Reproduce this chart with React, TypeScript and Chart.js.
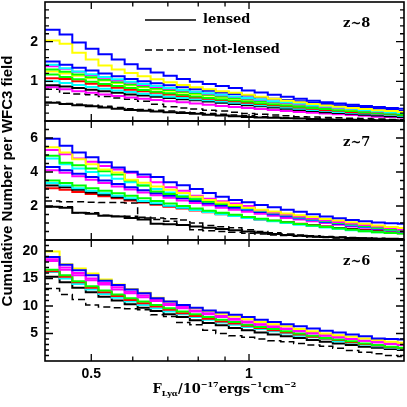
import React, { useEffect, useRef } from "react";
import { Chart, registerables } from "chart.js";

Chart.register(...registerables);

// ---------- x axis (Lyα flux, log scale) ----------
const fluxMin = 0.408;
const fluxMax = 1.976;
const fluxBins = [
  0.408, 0.435, 0.46, 0.488, 0.516, 0.547, 0.579,
  0.613, 0.649, 0.687, 0.728, 0.771, 0.816, 0.864,
  0.915, 0.969, 1.025, 1.086, 1.15, 1.217, 1.289,
  1.365, 1.445, 1.53, 1.62, 1.716, 1.816, 1.923,
];
const xLabelTicks = [0.5, 1];
const xMajorTicks = [0.5, 1];
const xMinorTicks = [0.6, 0.7, 0.8, 0.9];

// ---------- z~8 panel ----------
const z8YLabels = [1, 2];
const z8YMinor = [0.2, 0.4, 0.6, 0.8, 1.2, 1.4, 1.6, 1.8, 2.2, 2.4, 2.6, 2.8];
const z8Blue1 = [2.3, 2.18, 1.98, 1.82, 1.68, 1.55, 1.43, 1.32, 1.22, 1.14, 1.06, 0.99, 0.93, 0.88, 0.83, 0.77, 0.72, 0.66, 0.61, 0.56, 0.51, 0.47, 0.44, 0.41, 0.38, 0.35, 0.33, 0.31];
const z8Yellow1 = [2.03, 1.95, 1.72, 1.55, 1.4, 1.3, 1.21, 1.13, 1.05, 0.98, 0.91, 0.85, 0.8, 0.75, 0.71, 0.66, 0.61, 0.56, 0.51, 0.47, 0.43, 0.39, 0.36, 0.33, 0.3, 0.27, 0.25, 0.23];
const z8Blue2 = [1.5, 1.42, 1.34, 1.27, 1.2, 1.13, 1.06, 1.0, 0.95, 0.9, 0.85, 0.8, 0.76, 0.72, 0.68, 0.64, 0.6, 0.56, 0.53, 0.5, 0.46, 0.43, 0.4, 0.37, 0.34, 0.31, 0.28, 0.25];
const z8Cyan1 = [1.42, 1.33, 1.25, 1.18, 1.11, 1.05, 0.99, 0.93, 0.88, 0.83, 0.78, 0.74, 0.7, 0.66, 0.62, 0.58, 0.54, 0.5, 0.47, 0.44, 0.4, 0.37, 0.34, 0.31, 0.28, 0.25, 0.22, 0.2];
const z8Magenta1 = [1.38, 1.32, 1.24, 1.16, 1.09, 1.03, 0.97, 0.91, 0.86, 0.81, 0.77, 0.73, 0.69, 0.65, 0.61, 0.57, 0.53, 0.49, 0.46, 0.42, 0.39, 0.36, 0.33, 0.3, 0.27, 0.24, 0.22, 0.2];
const z8Green1 = [1.3, 1.24, 1.17, 1.1, 1.04, 0.98, 0.92, 0.87, 0.82, 0.78, 0.74, 0.7, 0.66, 0.62, 0.58, 0.54, 0.5, 0.47, 0.44, 0.41, 0.38, 0.35, 0.32, 0.29, 0.26, 0.23, 0.21, 0.19];
const z8Yellow2 = [1.25, 1.2, 1.14, 1.08, 1.02, 0.96, 0.9, 0.85, 0.8, 0.76, 0.72, 0.68, 0.64, 0.6, 0.57, 0.54, 0.5, 0.47, 0.44, 0.41, 0.38, 0.35, 0.32, 0.29, 0.27, 0.25, 0.23, 0.21];
const z8Green2 = [1.17, 1.11, 1.05, 0.99, 0.93, 0.88, 0.83, 0.78, 0.74, 0.7, 0.66, 0.62, 0.58, 0.55, 0.52, 0.49, 0.45, 0.42, 0.39, 0.36, 0.33, 0.3, 0.27, 0.25, 0.22, 0.2, 0.18, 0.16];
const z8Red = [1.08, 1.06, 1.0, 0.94, 0.89, 0.84, 0.79, 0.75, 0.71, 0.67, 0.63, 0.59, 0.56, 0.53, 0.5, 0.46, 0.43, 0.4, 0.37, 0.34, 0.31, 0.28, 0.26, 0.23, 0.21, 0.19, 0.17, 0.15];
const z8Cyan2 = [1.0, 0.96, 0.91, 0.86, 0.81, 0.77, 0.73, 0.69, 0.65, 0.61, 0.58, 0.55, 0.52, 0.49, 0.46, 0.43, 0.4, 0.37, 0.34, 0.31, 0.28, 0.26, 0.23, 0.21, 0.19, 0.17, 0.15, 0.13];
const z8Black = [0.9, 0.87, 0.83, 0.79, 0.75, 0.71, 0.67, 0.64, 0.61, 0.58, 0.55, 0.52, 0.49, 0.46, 0.43, 0.4, 0.37, 0.34, 0.31, 0.28, 0.25, 0.22, 0.2, 0.18, 0.16, 0.14, 0.12, 0.1];
const z8Magenta2 = [0.85, 0.8, 0.75, 0.71, 0.67, 0.63, 0.59, 0.56, 0.53, 0.5, 0.47, 0.44, 0.41, 0.38, 0.35, 0.33, 0.3, 0.28, 0.25, 0.23, 0.21, 0.19, 0.17, 0.15, 0.13, 0.11, 0.1, 0.09];
const z8Dashed1 = [0.8, 0.7, 0.68, 0.66, 0.62, 0.58, 0.55, 0.5, 0.42, 0.36, 0.33, 0.3, 0.27, 0.25, 0.22, 0.19, 0.17, 0.15, 0.13, 0.11, 0.1, 0.09, 0.08, 0.07, 0.06, 0.05, 0.04, 0.04];
const z8Dashed2 = [0.47, 0.44, 0.42, 0.4, 0.37, 0.34, 0.31, 0.29, 0.27, 0.25, 0.23, 0.21, 0.19, 0.17, 0.15, 0.13, 0.11, 0.1, 0.08, 0.07, 0.06, 0.05, 0.04, 0.04, 0.03, 0.03, 0.02, 0.02];
const z8BlackLow = [0.46, 0.43, 0.4, 0.37, 0.34, 0.31, 0.28, 0.26, 0.24, 0.22, 0.2, 0.18, 0.16, 0.14, 0.12, 0.1, 0.09, 0.08, 0.07, 0.06, 0.05, 0.04, 0.03, 0.03, 0.02, 0.02, 0.02, 0.01];

// ---------- z~7 panel ----------
const z7YLabels = [2, 4, 6];
const z7YMinor = [0.5, 1, 1.5, 2.5, 3, 3.5, 4.5, 5, 5.5, 6.5];
const z7Blue1 = [5.95, 5.55, 5.15, 4.87, 4.57, 4.27, 4.02, 3.85, 3.7, 3.4, 3.22, 3.0, 2.77, 2.55, 2.36, 2.22, 2.06, 1.93, 1.78, 1.66, 1.52, 1.38, 1.28, 1.17, 1.1, 1.03, 0.98, 0.95];
const z7Yellow = [5.45, 5.15, 4.75, 4.45, 4.15, 3.97, 3.55, 3.37, 3.15, 2.96, 2.77, 2.55, 2.35, 2.2, 2.06, 1.9, 1.78, 1.68, 1.56, 1.45, 1.35, 1.24, 1.14, 1.05, 0.96, 0.86, 0.77, 0.7];
const z7Magenta1 = [5.3, 5.05, 4.8, 4.6, 4.35, 4.15, 3.95, 3.7, 3.4, 3.1, 2.9, 2.6, 2.42, 2.28, 2.14, 2.0, 1.75, 1.62, 1.5, 1.38, 1.27, 1.16, 1.06, 0.97, 0.88, 0.8, 0.7, 0.62];
const z7Green1 = [4.95, 4.55, 4.4, 4.2, 4.05, 3.85, 3.5, 3.2, 2.85, 2.7, 2.55, 2.4, 2.25, 2.12, 2.0, 1.88, 1.74, 1.6, 1.48, 1.36, 1.24, 1.13, 1.02, 0.92, 0.82, 0.72, 0.62, 0.55];
const z7Cyan1 = [4.8, 4.45, 4.2, 4.0, 3.8, 3.6, 3.4, 3.2, 3.0, 2.8, 2.6, 2.45, 2.3, 2.15, 2.0, 1.86, 1.72, 1.58, 1.45, 1.33, 1.21, 1.1, 1.0, 0.9, 0.8, 0.7, 0.61, 0.55];
const z7Blue2 = [4.3, 4.1, 3.9, 3.7, 3.5, 3.3, 3.1, 2.92, 2.75, 2.6, 2.45, 2.3, 2.15, 2.02, 1.9, 1.78, 1.65, 1.52, 1.4, 1.28, 1.17, 1.06, 0.96, 0.86, 0.77, 0.68, 0.6, 0.52];
const z7Magenta2 = [4.1, 3.95, 3.75, 3.55, 3.35, 3.15, 2.97, 2.8, 2.63, 2.48, 2.33, 2.18, 2.04, 1.9, 1.78, 1.66, 1.54, 1.42, 1.3, 1.2, 1.1, 1.0, 0.9, 0.8, 0.72, 0.64, 0.56, 0.5];
const z7Green2 = [3.5, 3.35, 3.2, 3.05, 2.9, 2.75, 2.6, 2.45, 2.3, 2.15, 2.0, 1.85, 1.72, 1.6, 1.48, 1.36, 1.25, 1.14, 1.04, 0.94, 0.85, 0.76, 0.68, 0.6, 0.52, 0.46, 0.41, 0.38];
const z7Cyan2 = [3.35, 3.2, 3.05, 2.9, 2.75, 2.6, 2.45, 2.3, 2.16, 2.02, 1.89, 1.76, 1.64, 1.52, 1.41, 1.3, 1.2, 1.1, 1.0, 0.9, 0.82, 0.74, 0.66, 0.58, 0.52, 0.46, 0.42, 0.4];
const z7Black = [3.2, 3.1, 2.95, 2.8, 2.66, 2.52, 2.38, 2.25, 2.12, 2.0, 1.88, 1.76, 1.64, 1.53, 1.42, 1.32, 1.22, 1.12, 1.03, 0.94, 0.86, 0.78, 0.7, 0.63, 0.56, 0.5, 0.45, 0.41];
const z7Red = [3.05, 2.95, 2.82, 2.7, 2.57, 2.45, 2.33, 2.2, 2.08, 1.96, 1.85, 1.74, 1.63, 1.52, 1.42, 1.32, 1.22, 1.13, 1.04, 0.95, 0.87, 0.79, 0.71, 0.64, 0.57, 0.51, 0.45, 0.4];
const z7Dashed1 = [2.3, 2.25, 2.25, 2.22, 2.2, 2.2, 2.18, 1.34, 1.3, 1.25, 1.18, 1.0, 0.85, 0.78, 0.72, 0.6, 0.5, 0.42, 0.35, 0.3, 0.25, 0.2, 0.17, 0.14, 0.12, 0.1, 0.08, 0.07];
const z7Dashed2 = [1.95, 1.95, 1.6, 1.6, 1.45, 1.4, 1.4, 1.3, 1.2, 1.1, 0.9, 0.6, 0.55, 0.5, 0.45, 0.4, 0.35, 0.3, 0.26, 0.22, 0.18, 0.15, 0.12, 0.1, 0.08, 0.07, 0.06, 0.05];
const z7BlackLow = [1.95, 1.9, 1.6, 1.55, 1.42, 1.38, 1.3, 1.2, 0.95, 0.92, 0.88, 0.8, 0.72, 0.65, 0.58, 0.5, 0.42, 0.36, 0.3, 0.25, 0.21, 0.17, 0.14, 0.12, 0.1, 0.08, 0.07, 0.06];

// ---------- z~6 panel ----------
const z6YLabels = [5, 10, 15, 20];
const z6YMinor = [1, 2, 3, 4, 6, 7, 8, 9, 11, 12, 13, 14, 16, 17, 18, 19, 21];
const z6Yellow = [19.9, 17.6, 16.8, 15.9, 14.8, 13.9, 13.1, 12.4, 11.5, 10.8, 10.2, 9.6, 9.1, 8.6, 8.1, 7.6, 7.1, 6.7, 6.3, 5.8, 5.4, 5.0, 4.7, 4.4, 4.1, 3.8, 3.5, 3.3];
const z6Blue = [18.9, 17.5, 16.5, 15.6, 14.6, 13.8, 13.0, 12.3, 11.4, 10.8, 10.2, 9.7, 9.2, 8.8, 8.4, 8.0, 7.5, 7.1, 6.7, 6.3, 5.9, 5.5, 5.2, 4.8, 4.5, 4.1, 4.0, 3.9];
const z6Magenta1 = [18.5, 17.0, 16.0, 15.0, 14.2, 13.4, 12.6, 11.9, 11.1, 10.4, 9.8, 9.2, 8.7, 8.2, 7.7, 7.2, 6.7, 6.3, 5.9, 5.5, 5.1, 4.7, 4.3, 4.0, 3.7, 3.4, 3.1, 2.9];
const z6Magenta2 = [18.2, 16.6, 15.6, 14.7, 13.9, 13.0, 12.3, 11.6, 10.9, 10.2, 9.6, 9.0, 8.5, 8.0, 7.5, 7.0, 6.6, 6.2, 5.8, 5.4, 5.0, 4.6, 4.3, 4.0, 3.7, 3.4, 3.2, 3.0];
const z6Green = [16.6, 15.6, 14.5, 13.6, 12.8, 12.1, 11.4, 10.8, 10.2, 9.6, 9.0, 8.5, 8.0, 7.5, 7.1, 6.6, 6.2, 5.8, 5.4, 5.0, 4.6, 4.2, 3.9, 3.6, 3.2, 2.9, 2.6, 2.4];
const z6Red = [16.3, 15.3, 14.3, 13.3, 12.5, 11.8, 11.1, 10.5, 9.9, 9.3, 8.7, 8.2, 7.7, 7.2, 6.8, 6.4, 6.0, 5.6, 5.2, 4.8, 4.4, 4.1, 3.8, 3.4, 3.1, 2.8, 2.5, 2.3];
const z6Cyan = [16.2, 15.0, 14.0, 13.0, 12.2, 11.5, 10.8, 10.2, 9.6, 9.0, 8.5, 8.0, 7.5, 7.0, 6.6, 6.2, 5.8, 5.4, 5.0, 4.6, 4.3, 4.0, 3.6, 3.3, 3.0, 2.7, 2.4, 2.2];
const z6Black = [15.3, 14.3, 13.3, 12.5, 11.7, 11.0, 10.3, 9.7, 9.1, 8.5, 8.0, 7.4, 6.9, 6.5, 6.0, 5.6, 5.2, 4.8, 4.5, 4.2, 3.8, 3.5, 3.2, 2.9, 2.6, 2.4, 2.2, 2.0];
const z6Dashed = [13.2, 12.1, 11.2, 10.2, 9.8, 9.7, 9.5, 9.3, 8.4, 8.1, 7.0, 6.6, 5.6, 5.0, 4.6, 4.3, 4.0, 3.7, 3.5, 3.2, 2.9, 2.7, 2.3, 1.9, 1.6, 1.3, 1.0, 0.8];

// ---------- styles ----------
const BLUE = "#0000ff";
const YELLOW = "#ffff00";
const MAGENTA = "#ff00ff";
const GREEN = "#00ff00";
const CYAN = "#00ffff";
const RED = "#ff0000";
const BLACK = "#000000";

type Series = { label: string; color: string; dash: boolean; values: number[] };
type PanelSpec = {
  key: string;
  zLabel: string;
  yMax: number;
  yLabels: number[];
  yMinor: number[];
  legend: boolean;
  series: Series[];
};

const panels: PanelSpec[] = [
  {
    key: "z8", zLabel: "z~8", yMax: 3, yLabels: z8YLabels, yMinor: z8YMinor, legend: true,
    series: [
      { label: "blue", color: BLUE, dash: false, values: z8Blue1 },
      { label: "yellow", color: YELLOW, dash: false, values: z8Yellow1 },
      { label: "blue 2", color: BLUE, dash: false, values: z8Blue2 },
      { label: "cyan", color: CYAN, dash: false, values: z8Cyan1 },
      { label: "magenta", color: MAGENTA, dash: false, values: z8Magenta1 },
      { label: "green", color: GREEN, dash: false, values: z8Green1 },
      { label: "yellow 2", color: YELLOW, dash: false, values: z8Yellow2 },
      { label: "green 2", color: GREEN, dash: false, values: z8Green2 },
      { label: "red", color: RED, dash: false, values: z8Red },
      { label: "cyan 2", color: CYAN, dash: false, values: z8Cyan2 },
      { label: "black", color: BLACK, dash: false, values: z8Black },
      { label: "magenta 2", color: MAGENTA, dash: false, values: z8Magenta2 },
      { label: "not-lensed 1", color: BLACK, dash: true, values: z8Dashed1 },
      { label: "not-lensed 2", color: BLACK, dash: true, values: z8Dashed2 },
      { label: "black low", color: BLACK, dash: false, values: z8BlackLow },
    ],
  },
  {
    key: "z7", zLabel: "z~7", yMax: 7, yLabels: z7YLabels, yMinor: z7YMinor, legend: false,
    series: [
      { label: "blue", color: BLUE, dash: false, values: z7Blue1 },
      { label: "yellow", color: YELLOW, dash: false, values: z7Yellow },
      { label: "magenta", color: MAGENTA, dash: false, values: z7Magenta1 },
      { label: "green", color: GREEN, dash: false, values: z7Green1 },
      { label: "cyan", color: CYAN, dash: false, values: z7Cyan1 },
      { label: "blue 2", color: BLUE, dash: false, values: z7Blue2 },
      { label: "magenta 2", color: MAGENTA, dash: false, values: z7Magenta2 },
      { label: "green 2", color: GREEN, dash: false, values: z7Green2 },
      { label: "cyan 2", color: CYAN, dash: false, values: z7Cyan2 },
      { label: "black", color: BLACK, dash: false, values: z7Black },
      { label: "red", color: RED, dash: false, values: z7Red },
      { label: "not-lensed 1", color: BLACK, dash: true, values: z7Dashed1 },
      { label: "not-lensed 2", color: BLACK, dash: true, values: z7Dashed2 },
      { label: "black low", color: BLACK, dash: false, values: z7BlackLow },
    ],
  },
  {
    key: "z6", zLabel: "z~6", yMax: 22, yLabels: z6YLabels, yMinor: z6YMinor, legend: false,
    series: [
      { label: "blue", color: BLUE, dash: false, values: z6Blue },
      { label: "yellow", color: YELLOW, dash: false, values: z6Yellow },
      { label: "magenta", color: MAGENTA, dash: false, values: z6Magenta1 },
      { label: "magenta 2", color: MAGENTA, dash: false, values: z6Magenta2 },
      { label: "green", color: GREEN, dash: false, values: z6Green },
      { label: "red", color: RED, dash: false, values: z6Red },
      { label: "cyan", color: CYAN, dash: false, values: z6Cyan },
      { label: "black", color: BLACK, dash: false, values: z6Black },
      { label: "not-lensed", color: BLACK, dash: true, values: z6Dashed },
    ],
  },
];

const tickFont = { family: '"Liberation Sans", Arial, sans-serif', size: 14, weight: "bold" as const };
const serifBold = (px: number) => `bold ${px}px "DejaVu Serif", "Liberation Serif", serif`;

const xTitleParts = [
  { t: "F", k: "n" },
  { t: "Lyα", k: "sub" },
  { t: "/10", k: "n" },
  { t: "−17", k: "sup" },
  { t: "ergs", k: "n" },
  { t: "−1", k: "sup" },
  { t: "cm", k: "n" },
  { t: "−2", k: "sup" },
];

function stepData(values: number[]) {
  const pts = fluxBins.map((x, i) => ({ x, y: values[i] }));
  pts.push({ x: fluxMax, y: values[values.length - 1] });
  return pts;
}

function decoPlugin(panel: PanelSpec, isBottom: boolean) {
  return {
    id: "deco_" + panel.key,
    afterDatasetsDraw(chart: any) {
      const { ctx, chartArea: a } = chart;
      const xs = chart.scales.x;
      const ys = chart.scales.y;
      ctx.save();
      ctx.strokeStyle = "#000";
      ctx.lineWidth = 1.3;
      ctx.beginPath();
      const seg = (x1: number, y1: number, x2: number, y2: number) => {
        ctx.moveTo(x1, y1);
        ctx.lineTo(x2, y2);
      };
      xMajorTicks.forEach((v) => {
        const p = xs.getPixelForValue(v);
        seg(p, a.top, p, a.top + 7);
        seg(p, a.bottom, p, a.bottom - 7);
      });
      xMinorTicks.forEach((v) => {
        const p = xs.getPixelForValue(v);
        seg(p, a.top, p, a.top + 4.5);
        seg(p, a.bottom, p, a.bottom - 4.5);
      });
      panel.yLabels.forEach((v) => {
        const p = ys.getPixelForValue(v);
        seg(a.left, p, a.left + 8, p);
        seg(a.right, p, a.right - 8, p);
      });
      panel.yMinor.forEach((v) => {
        const p = ys.getPixelForValue(v);
        seg(a.left, p, a.left + 4, p);
        seg(a.right, p, a.right - 4, p);
      });
      ctx.stroke();
      ctx.lineWidth = 1.6;
      ctx.strokeRect(a.left, a.top, a.right - a.left, a.bottom - a.top);

      ctx.fillStyle = "#000";
      ctx.textAlign = "left";
      ctx.textBaseline = "alphabetic";
      ctx.font = serifBold(13);
      ctx.fillText(panel.zLabel, 343, a.top + 25);

      if (panel.legend) {
        const lx0 = a.left + 100;
        const lx1 = a.left + 151;
        ctx.lineWidth = 1.5;
        ctx.beginPath();
        ctx.moveTo(lx0, a.top + 18);
        ctx.lineTo(lx1, a.top + 18);
        ctx.stroke();
        ctx.setLineDash([7, 4]);
        ctx.beginPath();
        ctx.moveTo(lx0, a.top + 48);
        ctx.lineTo(lx1, a.top + 48);
        ctx.stroke();
        ctx.setLineDash([]);
        ctx.fillText("lensed", a.left + 158, a.top + 21);
        ctx.fillText("not-lensed", a.left + 158, a.top + 51);
      }

      if (isBottom) {
        const fontFor = (k: string) => (k === "n" ? serifBold(13) : serifBold(8));
        let total = 0;
        xTitleParts.forEach((p) => {
          ctx.font = fontFor(p.k);
          total += ctx.measureText(p.t).width;
        });
        let x = (a.left + a.right) / 2 - total / 2;
        const base = a.bottom + 32;
        xTitleParts.forEach((p) => {
          ctx.font = fontFor(p.k);
          const dy = p.k === "sup" ? -6 : p.k === "sub" ? 3 : 0;
          ctx.fillText(p.t, x, base + dy);
          x += ctx.measureText(p.t).width;
        });
      }
      ctx.restore();
    },
  };
}

function makeConfig(panel: PanelSpec, isBottom: boolean, padTop: number, padBottom: number): any {
  return {
    type: "line",
    data: {
      datasets: panel.series.map((s) => ({
        label: s.label,
        data: stepData(s.values),
        borderColor: s.color,
        backgroundColor: s.color,
        borderWidth: s.dash ? 1.5 : 2,
        borderDash: s.dash ? [7, 4] : [],
        pointRadius: 0,
        stepped: true,
        tension: 0,
        fill: false,
      })),
    },
    options: {
      animation: false,
      responsive: false,
      maintainAspectRatio: false,
      devicePixelRatio: 1,
      events: [],
      layout: { padding: { top: padTop, bottom: padBottom, left: 0, right: 3 } },
      plugins: { legend: { display: false }, tooltip: { enabled: false } },
      scales: {
        x: {
          type: "logarithmic",
          min: fluxMin,
          max: fluxMax,
          display: isBottom,
          position: "bottom",
          grid: { display: false, drawTicks: false },
          border: { display: false },
          afterBuildTicks: (ax: any) => {
            ax.ticks = xLabelTicks.map((v) => ({ value: v }));
          },
          ticks: {
            callback: (v: number) => String(v),
            font: tickFont,
            color: "#000",
            padding: 5,
            maxRotation: 0,
            autoSkip: false,
          },
          afterFit: (ax: any) => {
            if (!isBottom) return;
            ax.height = 46;
            ax.paddingLeft = 0;
            ax.paddingRight = 0;
          },
        },
        y: {
          type: "linear",
          min: 0,
          max: panel.yMax,
          position: "left",
          grid: { display: false, drawTicks: false },
          border: { display: false },
          afterBuildTicks: (ax: any) => {
            ax.ticks = panel.yLabels.map((v) => ({ value: v }));
          },
          ticks: {
            callback: (v: number) => String(v),
            font: tickFont,
            color: "#000",
            padding: 7,
            autoSkip: false,
          },
          afterFit: (ax: any) => {
            ax.width = 45;
            ax.paddingTop = 0;
            ax.paddingBottom = 0;
          },
        },
      },
    },
    plugins: [decoPlugin(panel, isBottom)],
  };
}

function Panel(props: { spec: PanelSpec; top: number; height: number; padTop: number; padBottom: number; isBottom: boolean }) {
  const ref = useRef<HTMLCanvasElement | null>(null);
  useEffect(() => {
    if (!ref.current) return;
    const chart = new Chart(ref.current, makeConfig(props.spec, props.isBottom, props.padTop, props.padBottom));
    return () => chart.destroy();
  }, []);
  return (
    <canvas
      ref={ref}
      width={407}
      height={props.height}
      style={{ position: "absolute", left: 0, top: props.top, width: 407, height: props.height, display: "block" }}
    />
  );
}

export default function App() {
  return (
    <div style={{ position: "fixed", left: 0, top: 0, width: 407, height: 407, background: "#fff", overflow: "hidden" }}>
      <Panel spec={panels[0]} top={0} height={123} padTop={2} padBottom={2} isBottom={false} />
      <Panel spec={panels[1]} top={119} height={123} padTop={2} padBottom={2} isBottom={false} />
      <Panel spec={panels[2]} top={238} height={169} padTop={2} padBottom={0} isBottom={true} />
      <div
        style={{
          position: "absolute",
          left: 8 - 150,
          top: 181 - 10,
          width: 300,
          height: 20,
          lineHeight: "20px",
          textAlign: "center",
          transform: "rotate(-90deg)",
          font: 'bold 15px "Liberation Sans", Arial, sans-serif',
          whiteSpace: "nowrap",
          color: "#000",
        }}
      >
        Cumulative Number per WFC3 field
      </div>
    </div>
  );
}
